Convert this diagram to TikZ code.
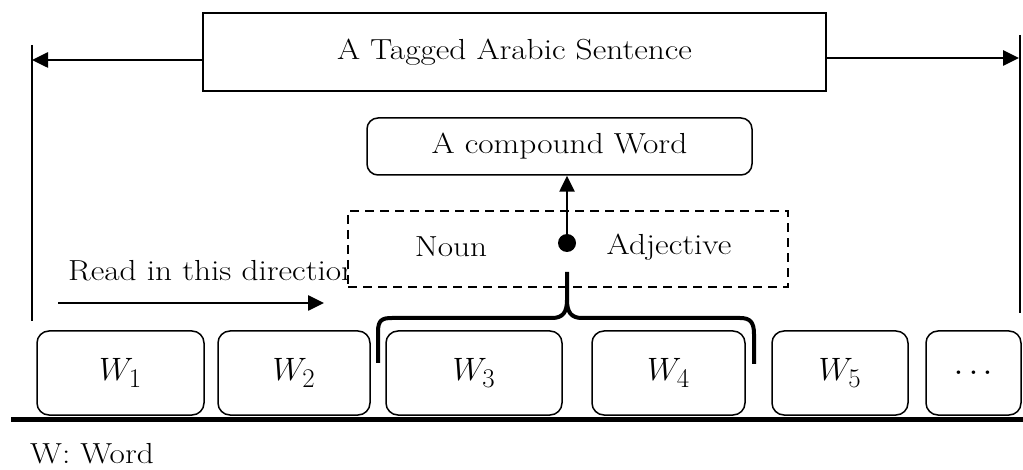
\documentclass[tikz,border=0pt]{standalone}
\usetikzlibrary{arrows.meta}
\newcommand{\wide}[1]{\scalebox{1.15}[1]{#1}}
\begin{document}
\begin{tikzpicture}[x=1pt,y=-1pt,
  txt/.style={font=\fontsize{29}{33}\selectfont, inner sep=0pt},
  wtxt/.style={font=\fontsize{29}{33}\selectfont, inner sep=0pt},
  sqbox/.style={draw, line width=1.5pt},
  rbox/.style={draw, line width=1.5pt, rounded corners=11pt},
  wbox/.style={draw, line width=1.5pt, rounded corners=12pt},
  thickarrow/.style={line width=2.6pt, -{Triangle[length=16pt,width=15pt]}},
]
\useasboundingbox (0,0) rectangle (1023,470);

% vertical bounds
\coordinate (lt) at (32,45);
\coordinate (lb) at (32,321);
\coordinate (rt) at (1020,35);
\coordinate (rb) at (1020,313);
\draw[line width=2.6pt] (lt) -- (lb);
\draw[line width=2.6pt] (rt) -- (rb);

% title box
\node[sqbox, minimum width=623pt, minimum height=78pt, txt] (title) at (514.5,52) {\wide{A Tagged Arabic Sentence}};
\coordinate (la) at (32,60);
\coordinate (ra) at (1019,58);
\draw[thickarrow] (title.west |- la) -- (la);
\draw[thickarrow] (title.east |- ra) -- (ra);

% compound word box
\node[rbox, minimum width=385pt, minimum height=57pt, txt] (cw) at (559.5,146.5) {\wide{A compound Word}};

% read direction
\node[txt, anchor=base west] (read) at (68,281) {\wide{Read in this direction}};
\coordinate (rs) at (58,303);
\coordinate (re) at (324,303);
\draw[thickarrow] (rs) -- (re);

% dashed box
\node[draw, line width=1.5pt, fill=white, minimum width=440pt, minimum height=76pt, dash pattern=on 9pt off 6pt] (dbox) at (568,249) {};
\node[txt] (noun) at (451,247) {\wide{Noun}};
\node[txt] (adj) at (669,247) {\wide{Adjective}};

% dot and arrow
\fill (567,243) circle (9pt);
\coordinate (dot) at (567,243);
\draw[thickarrow] (dot) -- (cw.south -| dot);

% baseline
\coordinate (bl) at (11,419);
\coordinate (br) at (1023,419);
\draw[line width=5pt] (bl) -- (br);

% word boxes
\node[wbox, minimum width=167pt, minimum height=84pt, wtxt] (w1) at (120.5,373) {\scalebox{1.3}{$W_{\mathrm{1}}$}};
\node[wbox, minimum width=152pt, minimum height=84pt, wtxt] (w2) at (294,373) {\scalebox{1.3}{$W_{\mathrm{2}}$}};
\node[wbox, minimum width=176pt, minimum height=84pt, wtxt] (w3) at (474,373) {\scalebox{1.3}{$W_{\mathrm{3}}$}};
\node[wbox, minimum width=153pt, minimum height=84pt, wtxt] (w4) at (668.5,373) {\scalebox{1.3}{$W_{\mathrm{4}}$}};
\node[wbox, minimum width=136pt, minimum height=84pt, wtxt] (w5) at (840,373) {\scalebox{1.3}{$W_{\mathrm{5}}$}};
\node[wbox, minimum width=95pt, minimum height=84pt, wtxt] (w6) at (973.5,373) {\scalebox{1.5}{.\kern2.5pt.\kern2.5pt.}};

% brace
\draw[line width=4pt, line join=round] (378,363) -- (378,332) .. controls (378,320) and (382,318) .. (392,318)
  -- (552,318) .. controls (563,318) and (567,312) .. (567,300) -- (567,272);
\draw[line width=4pt, line join=round] (567,300) .. controls (567,312) and (571,318) .. (582,318)
  -- (740,318) .. controls (750,318) and (754,322) .. (754,334) -- (754,364);

% legend
\node[txt, anchor=base west] (legend) at (30,463) {\wide{W: Word}};
\end{tikzpicture}
\end{document}
